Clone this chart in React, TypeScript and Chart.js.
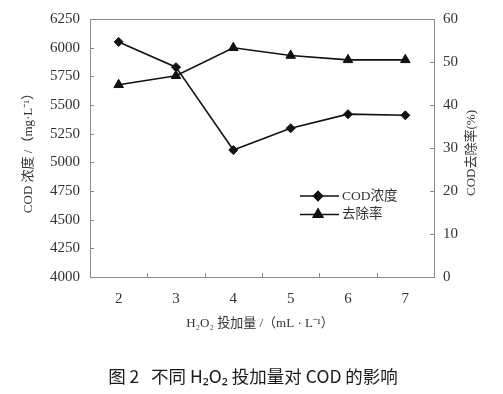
import React, { useEffect, useRef } from "react";
import { Chart, registerables } from "chart.js";
import { drawPoint } from "chart.js/helpers";

Chart.register(...registerables);

const categories = ["2", "3", "4", "5", "6", "7"];
const codValues = [6050, 5830, 5107, 5297, 5420, 5410];
const removalValues = [44.7, 46.8, 53.3, 51.5, 50.5, 50.5];
const seriesNames = ["COD浓度", "去除率"];
const leftTitle = "COD 浓度 /（mg·L⁻¹）";
const rightTitle = "COD去除率(%)";
const xTitle = "H₂O₂ 投加量 /（mL · L⁻¹）";
const caption = "图 2   不同 H₂O₂ 投加量对 COD 的影响";

const SERIF = '"Liberation Serif", "Times New Roman", "Noto Sans CJK SC", serif';
const SANS = '"Noto Sans CJK SC", "Noto Sans", sans-serif';

const decorPlugin = {
  id: "decor",
  afterDraw(chart: any) {
    const { ctx, chartArea } = chart;
    const { left, right, top, bottom } = chartArea;
    const xs = chart.scales.x;
    const yl = chart.scales.y;
    const yr = chart.scales.y1;
    ctx.save();
    // frame
    ctx.strokeStyle = "#8a8a8a";
    ctx.lineWidth = 1;
    ctx.strokeRect(Math.round(left) + 0.5, Math.round(top) + 0.5, Math.round(right - left), Math.round(bottom - top));
    // inward ticks
    ctx.beginPath();
    yl.ticks.forEach((t: any) => {
      const y = Math.round(yl.getPixelForValue(t.value)) + 0.5;
      ctx.moveTo(left, y);
      ctx.lineTo(left + 4, y);
    });
    yr.ticks.forEach((t: any) => {
      const y = Math.round(yr.getPixelForValue(t.value)) + 0.5;
      ctx.moveTo(right - 4, y);
      ctx.lineTo(right, y);
    });
    for (let i = 1; i < categories.length; i++) {
      const x = Math.round(xs.getPixelForValue(i - 0.5)) + 0.5;
      ctx.moveTo(x, bottom);
      ctx.lineTo(x, bottom - 4);
    }
    ctx.stroke();

    // axis titles
    ctx.fillStyle = "#333";
    ctx.font = `13px ${SERIF}`;
    ctx.textAlign = "center";
    ctx.textBaseline = "middle";
    ctx.save();
    ctx.translate(29, 150);
    ctx.rotate(-Math.PI / 2);
    ctx.fillText(leftTitle, 0, 0);
    ctx.restore();
    ctx.save();
    ctx.translate(472, 153);
    ctx.rotate(-Math.PI / 2);
    ctx.fillText(rightTitle, 0, 0);
    ctx.restore();
    ctx.fillText(xTitle, (left + right) / 2 - 2, 324);

    // caption
    ctx.fillStyle = "#1a1a1a";
    ctx.font = `400 17.5px ${SANS}`;
    ctx.fillText(caption, 253, 376);

    // legend
    const styles = ["rectRot", "triangle"];
    const radii = [4.5, 5.5];
    const lx = left + 210;
    ctx.font = `13.5px ${SERIF}`;
    ctx.textAlign = "left";
    seriesNames.forEach((name, i) => {
      const y = 196 + i * 18.5;
      ctx.strokeStyle = "#111";
      ctx.lineWidth = 1.6;
      ctx.beginPath();
      ctx.moveTo(lx, y);
      ctx.lineTo(lx + 39, y);
      ctx.stroke();
      ctx.fillStyle = "#111";
      drawPoint(ctx, { pointStyle: styles[i], radius: radii[i], rotation: 0, borderWidth: 1 } as any, lx + 18, y);
      ctx.fillStyle = "#333";
      ctx.fillText(name, lx + 42, y);
    });
    ctx.restore();
  },
};

export default function App() {
  const ref = useRef<HTMLCanvasElement>(null);
  useEffect(() => {
    if (!ref.current) return;
    const tickFont = { family: SERIF, size: 15 };
    const plain = (v: any) => String(v);
    const chart = new Chart(ref.current, {
      type: "line",
      data: {
        labels: categories,
        datasets: [
          {
            label: seriesNames[0],
            data: codValues,
            yAxisID: "y",
            borderColor: "#111",
            backgroundColor: "#111",
            borderWidth: 1.6,
            pointStyle: "rectRot",
            pointRadius: 4.5,
            pointBorderWidth: 1,
          },
          {
            label: seriesNames[1],
            data: removalValues,
            yAxisID: "y1",
            borderColor: "#111",
            backgroundColor: "#111",
            borderWidth: 1.6,
            pointStyle: "triangle",
            pointRadius: 5.5,
            pointBorderWidth: 1,
          },
        ],
      },
      options: {
        animation: false,
        responsive: true,
        maintainAspectRatio: false,
        layout: { padding: { top: 19, left: 0, right: 0, bottom: 0 } },
        plugins: { legend: { display: false }, tooltip: { enabled: false }, title: { display: false } },
        scales: {
          x: {
            type: "category",
            offset: true,
            grid: { display: false, drawTicks: false },
            border: { display: false },
            ticks: { color: "#333", font: tickFont, padding: 13 },
            afterFit: (s: any) => { s.height = 117; },
          },
          y: {
            position: "left",
            min: 4000,
            max: 6250,
            grid: { display: false, drawTicks: false },
            border: { display: false },
            ticks: { stepSize: 250, color: "#333", font: tickFont, padding: 10, callback: plain },
            afterFit: (s: any) => { s.width = 90; },
          },
          y1: {
            position: "right",
            min: 0,
            max: 60,
            grid: { display: false, drawTicks: false },
            border: { display: false },
            ticks: { stepSize: 10, color: "#333", font: tickFont, padding: 9, callback: plain },
            afterFit: (s: any) => { s.width = 69; },
          },
        },
      },
      plugins: [decorPlugin],
    });
    return () => chart.destroy();
  }, []);
  return (
    <div style={{ position: "fixed", left: 0, top: 0, width: 503, height: 394, background: "#fff" }}>
      <canvas ref={ref} />
    </div>
  );
}
